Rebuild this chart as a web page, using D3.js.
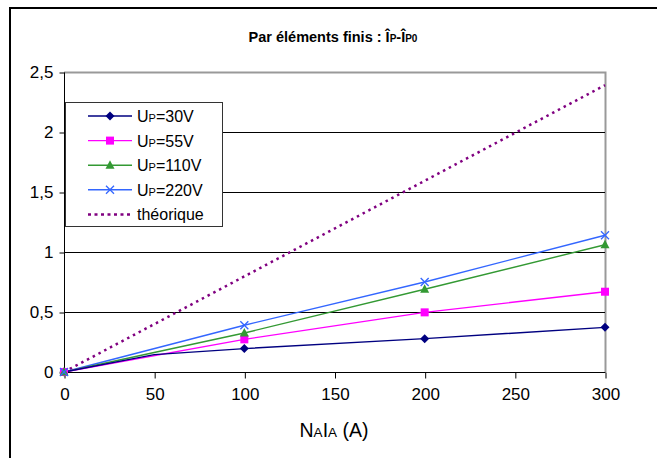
<!DOCTYPE html>
<html><head><meta charset="utf-8">
<script src="https://cdn.jsdelivr.net/npm/d3@7"></script>
<style>body{margin:0;background:#fff}svg{display:block;font-family:"Liberation Sans",Arial,sans-serif}</style>
</head><body>
<svg id="c" width="657" height="458"></svg>
<script>
const xTicks = [0, 50, 100, 150, 200, 250, 300];
const yTicks = [0, 0.5, 1, 1.5, 2, 2.5];
const yTickLabels = ["0", "0,5", "1", "1,5", "2", "2,5"];
const xUp30 = [0, 50, 100, 200, 300];
const up30 = [0, 0.145, 0.195, 0.278, 0.372];
const marks30 = [true, false, true, true, true];
const xUp = [0, 100, 200, 300];
const up55 = [0, 0.272, 0.497, 0.669];
const up110 = [0, 0.325, 0.69, 1.06];
const up220 = [0, 0.39, 0.75, 1.14];
const xTheo = [0, 300];
const theo = [0, 2.39];
const seriesNames = ["30V", "55V", "110V", "220V"];

const svg = d3.select("#c");
const x = d3.scaleLinear().domain([0, 300]).range([64, 605]);
const y = d3.scaleLinear().domain([0, 2.5]).range([372, 72]);

// outer frame
svg.append("rect").attr("x", 10).attr("y", 8).attr("width", 700).attr("height", 500)
  .attr("fill", "none").attr("stroke", "#000").attr("stroke-width", 2);

// title
const t = svg.append("text").attr("x", 333).attr("y", 42).attr("text-anchor", "middle")
  .attr("font-size", 14.5).attr("font-weight", "bold");
t.append("tspan").text("Par éléments finis : Î");
t.append("tspan").attr("font-size", 10).text("P");
t.append("tspan").text("-Î");
t.append("tspan").attr("font-size", 10).text("P0");

// plot frame (top and right gray)
svg.append("path").attr("d", `M${x(0)},${y(2.5)+0.5}H${x(300)+0.5}V${y(0)}`)
  .attr("fill", "none").attr("stroke", "#999").attr("stroke-width", 2);

// gridlines
svg.append("g").selectAll("line").data(yTicks.filter(v => v > 0 && v < 2.5)).join("line")
  .attr("x1", x(0)).attr("x2", x(300)).attr("y1", d => Math.round(y(d)) + 0.5).attr("y2", d => Math.round(y(d)) + 0.5)
  .attr("stroke", "#000").attr("stroke-width", 1);

// axes
const yAxis = d3.axisLeft(y).tickValues(yTicks).tickSize(5).tickPadding(6)
  .tickFormat((d, i) => yTickLabels[i]);
const gy = svg.append("g").attr("transform", `translate(${x(0)+0.5},0.5)`).call(yAxis);
const xAxis = d3.axisBottom(x).tickValues(xTicks).tickSize(6).tickPadding(9).tickFormat(d3.format("d"));
const gx = svg.append("g").attr("transform", `translate(0.5,${y(0)+0.5})`).call(xAxis);
[gy, gx].forEach(g => {
  g.select(".domain").attr("stroke", "#000");
  g.selectAll(".tick line").attr("stroke", "#000");
  g.selectAll("text").attr("font-size", 17).attr("fill", "#000")
    .attr("font-family", '"Liberation Sans",Arial,sans-serif');
});
gx.select(".domain").attr("d", `M${x(0)},0H${x(300)}`);
gy.select(".domain").attr("d", `M0,${y(0)}V${y(2.5)}`);

// x-axis title
const xt = svg.append("text").attr("x", 334).attr("y", 437).attr("text-anchor", "middle").attr("font-size", 19.5);
xt.append("tspan").text("N");
xt.append("tspan").attr("font-size", 13.5).text("A");
xt.append("tspan").text("I");
xt.append("tspan").attr("font-size", 13.5).text("A");
xt.append("tspan").text(" (A)");

// markers
function marker(g, type, cx, cy, color) {
  if (type === "diamond") {
    g.append("path").attr("d", `M${cx},${cy-4.5}L${cx+4.5},${cy}L${cx},${cy+4.5}L${cx-4.5},${cy}Z`).attr("fill", color);
  } else if (type === "square") {
    g.append("rect").attr("x", cx-4).attr("y", cy-4).attr("width", 8).attr("height", 8).attr("fill", color);
  } else if (type === "triangle") {
    g.append("path").attr("d", `M${cx},${cy-5}L${cx+4.5},${cy+3.5}L${cx-4.5},${cy+3.5}Z`).attr("fill", color);
  } else if (type === "x") {
    g.append("path").attr("d", `M${cx-4},${cy-4}L${cx+4},${cy+4}M${cx-4},${cy+4}L${cx+4},${cy-4}`)
      .attr("stroke", color).attr("stroke-width", 1.3).attr("fill", "none");
  }
}

const line = d3.line().x(d => x(d[0])).y(d => y(d[1]));
const series = [
  {xs: xUp30, ys: up30, marks: marks30, color: "#000080", type: "diamond"},
  {xs: xUp, ys: up55, marks: null, color: "#FF00FF", type: "square"},
  {xs: xUp, ys: up110, marks: null, color: "#339933", type: "triangle"},
  {xs: xUp, ys: up220, marks: null, color: "#3366FF", type: "x"}
];

// theoretical
svg.append("path").datum(xTheo.map((v, i) => [v, theo[i]])).attr("d", line)
  .attr("fill", "none").attr("stroke", "#800080").attr("stroke-width", 2.5).attr("stroke-dasharray", "2.5,4");

series.slice().reverse().forEach(s => {
  const pts = s.xs.map((v, i) => [v, s.ys[i]]);
  svg.append("path").datum(pts).attr("d", line).attr("fill", "none").attr("stroke", s.color).attr("stroke-width", 1.4);
});
series.forEach(s => {
  const g = svg.append("g");
  s.xs.forEach((v, i) => { if (!s.marks || s.marks[i]) marker(g, s.type, x(v), y(s.ys[i]), s.color); });
});

// legend
const lg = svg.append("g");
lg.append("rect").attr("x", 65.5).attr("y", 102.5).attr("width", 157).attr("height", 124)
  .attr("fill", "#fff").attr("stroke", "#333").attr("stroke-width", 1);
const rowY = i => 116 + i * 24.6;
series.forEach((s, i) => {
  const yy = rowY(i);
  lg.append("line").attr("x1", 88).attr("x2", 132).attr("y1", yy).attr("y2", yy).attr("stroke", s.color).attr("stroke-width", 1.4);
  marker(lg, s.type, 110, yy, s.color);
  const tx = lg.append("text").attr("x", 137).attr("y", yy + 6).attr("font-size", 16);
  tx.append("tspan").text("U");
  tx.append("tspan").attr("font-size", 11).text("P");
  tx.append("tspan").text("=" + seriesNames[i]);
});
lg.append("line").attr("x1", 88).attr("x2", 132).attr("y1", rowY(4)).attr("y2", rowY(4))
  .attr("stroke", "#800080").attr("stroke-width", 2.5).attr("stroke-dasharray", "3,3.5");
lg.append("text").attr("x", 137).attr("y", rowY(4) + 6).attr("font-size", 16).text("théorique");
</script>
</body></html>
